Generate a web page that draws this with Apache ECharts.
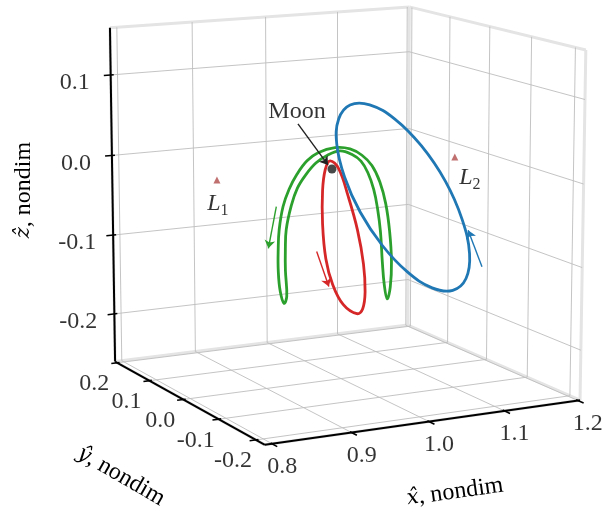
<!DOCTYPE html>
<html>
<head>
<meta charset="utf-8">
<script src="https://cdn.jsdelivr.net/npm/echarts@6.0.0/dist/echarts.min.js"></script>
<style>
html,body{margin:0;padding:0;background:#ffffff;}
#chart{width:605px;height:514px;}
</style>
</head>
<body>
<div id="chart"></div>
<script>
// ---------------- axes / ticks ----------------
const xTicks = [0.8, 0.9, 1.0, 1.1, 1.2];
const yTicks = [-0.2, -0.1, 0.0, 0.1, 0.2];
const zTicks = [-0.2, -0.1, 0.0, 0.1];
const xTickLabels = ['0.8', '0.9', '1.0', '1.1', '1.2'];
const yTickLabels = ['-0.2', '-0.1', '0.0', '0.1', '0.2'];
const zTickLabels = ['-0.2', '-0.1', '0.0', '0.1'];
// drawn box extents
const xLim = [0.791, 1.203];
const yLim = [-0.223, 0.207];
const zLim = [-0.261, 0.158];

// ---------------- orbits (nondim x, y, z) ----------------
const blueX = [1.0385, 1.0418, 1.0512, 1.0653, 1.0818, 1.0984, 1.1125, 1.1219, 1.1252, 1.1219, 1.1125, 1.0984, 1.0818, 1.0653, 1.0512, 1.0418];
const blueY = [0, 0.058, 0.107, 0.140, 0.151, 0.140, 0.107, 0.058, 0, -0.058, -0.107, -0.140, -0.151, -0.140, -0.107, -0.058];
const blueZ = [0.074, 0.0651, 0.0396, 0.0015, -0.0435, -0.0885, -0.1266, -0.152, -0.161, -0.152, -0.1266, -0.0885, -0.0435, 0.0015, 0.0396, 0.0651];

const redX = [0.9852, 0.9879, 0.9938, 1.0028, 1.0117, 1.0180, 1.0222, 1.0231, 1.0212, 1.0166, 1.0097, 1.0016, 0.9942, 0.9875];
const redY = [0, 0.018, 0.037, 0.055, 0.064, 0.058, 0.038, 0.003, -0.016, -0.031, -0.040, -0.040, -0.030, -0.018];
const redZ = [0.0101, -0.0039, -0.0334, -0.0793, -0.1249, -0.1570, -0.1785, -0.1829, -0.1725, -0.1477, -0.1113, -0.0689, -0.0287, 0.0036];

const greenX = [0.9919, 0.9743, 0.9621, 0.9513, 0.9406, 0.9325, 0.9272, 0.9258, 0.9258, 0.9234, 0.9236, 0.9224, 0.9159, 0.9159, 0.9172, 0.9239, 0.932, 0.9453, 0.9614, 0.9787, 0.9987, 1.0174, 1.032, 1.044, 1.0546, 1.0599, 1.064, 1.0667, 1.0642, 1.063, 1.0619, 1.0581, 1.0554, 1.05, 1.042, 1.0338, 1.023, 1.0095];
const greenY = [0, 0.01, 0.015, 0.02, 0.02, 0.02, 0.02, 0.02, 0.02, 0.01, 0, -0.01, -0.02, -0.02, -0.02, -0.02, -0.02, -0.015, -0.01, -0.005, 0, 0.005, 0.01, 0.015, 0.02, 0.02, 0.02, 0.02, 0.01, 0, -0.01, -0.02, -0.02, -0.02, -0.02, -0.015, -0.01, -0.005];
const greenZ = [0.0256, 0.0194, 0.0097, -0.0063, -0.0239, -0.0443, -0.0725, -0.0975, -0.1225, -0.1453, -0.1584, -0.1475, -0.1134, -0.0883, -0.0634, -0.0353, -0.0149, -0.0011, 0.0111, 0.0181, 0.0211, 0.0142, 0.004, -0.0121, -0.0344, -0.0588, -0.0881, -0.1261, -0.1526, -0.1681, -0.1509, -0.1171, -0.0792, -0.0447, -0.0174, 0.0026, 0.0153, 0.0234];

// direction arrows: start and end points (green, red, blue)
const arrowStart = [[0.9284, 0.03, -0.0458], [0.9972, 0.06, -0.1138], [1.1154, -0.14, -0.106]];
const arrowEnd   = [[0.9176, 0.03, -0.096], [1.0138, 0.06, -0.1595], [1.0962, -0.14, -0.06]];

const moonPos = [0.98785, 0, 0];
const L1Pos = [0.83692, 0, 0];
const L2Pos = [1.15568, 0, 0];

// ---------------- view / projection ----------------
const VIEW = {elev: 11.5, azim: 242.5, dist: 8.5, scale: 353, cx: 339.6, cy: 210.5,
              center: [0.994, -0.008, -0.05], span: [0.42, 0.43, 0.424]};
const el = VIEW.elev * Math.PI / 180, az = VIEW.azim * Math.PI / 180;
const eV = [Math.cos(el) * Math.cos(az), Math.cos(el) * Math.sin(az), Math.sin(el)];
const rV = [-Math.sin(az), Math.cos(az), 0];
const uV = [-Math.sin(el) * Math.cos(az), -Math.sin(el) * Math.sin(az), Math.cos(el)];
const dot = (a, b) => a[0] * b[0] + a[1] * b[1] + a[2] * b[2];
function project(x, y, z) {
  const n = [(x - VIEW.center[0]) / VIEW.span[0], (y - VIEW.center[1]) / VIEW.span[1], (z - VIEW.center[2]) / VIEW.span[2]];
  const f = VIEW.dist / (VIEW.dist - dot(n, eV));
  return [VIEW.cx + VIEW.scale * dot(n, rV) * f, VIEW.cy - VIEW.scale * dot(n, uV) * f];
}
const seg = (a, b) => ({coords: [project(a[0], a[1], a[2]), project(b[0], b[1], b[2])]});

const [X0, X1] = xLim, [Y0, Y1] = yLim, [Z0, Z1] = zLim;

// pane edges (floor, back-left wall y=Y1, back-right wall x=X1)
const paneEdges = [
  seg([X0, Y0, Z0], [X1, Y0, Z0]), seg([X1, Y0, Z0], [X1, Y1, Z0]), seg([X1, Y1, Z0], [X0, Y1, Z0]), seg([X0, Y1, Z0], [X0, Y0, Z0]),
  seg([X0, Y1, Z0], [X0, Y1, Z1]), seg([X0, Y1, Z1], [X1, Y1, Z1]), seg([X1, Y1, Z1], [X1, Y1, Z0]),
  seg([X1, Y0, Z0], [X1, Y0, Z1]), seg([X1, Y0, Z1], [X1, Y1, Z1])
];
// grid lines
const gridSegs = [];
xTicks.forEach(t => { gridSegs.push(seg([t, Y0, Z0], [t, Y1, Z0])); gridSegs.push(seg([t, Y1, Z0], [t, Y1, Z1])); });
yTicks.forEach(t => { gridSegs.push(seg([X0, t, Z0], [X1, t, Z0])); gridSegs.push(seg([X1, t, Z0], [X1, t, Z1])); });
zTicks.forEach(t => { gridSegs.push(seg([X0, Y1, t], [X1, Y1, t])); gridSegs.push(seg([X1, Y0, t], [X1, Y1, t])); });
// axis lines
const axisSegs = [seg([X0, Y0, Z0], [X1, Y0, Z0]), seg([X0, Y0, Z0], [X0, Y1, Z0]), seg([X0, Y1, Z0], [X0, Y1, Z1])];
// tick marks
const tickSegs = [];
xTicks.forEach(t => tickSegs.push(seg([t, Y0 - 0.013, Z0], [t, Y0 + 0.004, Z0])));
yTicks.forEach(t => tickSegs.push(seg([X0 - 0.008, t, Z0], [X0 + 0.003, t, Z0])));
zTicks.forEach(t => tickSegs.push(seg([X0 - 0.009, Y1, t], [X0 + 0.004, Y1, t])));

const FONT = 'Liberation Serif, Times New Roman, DejaVu Serif, serif';
const labelSeries = (points, labels, offset) => ({
  type: 'scatter', silent: true, symbolSize: 1, itemStyle: {color: 'rgba(0,0,0,0)'},
  label: {show: true, position: 'inside', color: '#000', fontFamily: FONT, fontSize: 24, offset: offset},
  data: points.map((p, i) => ({value: p, label: {formatter: labels[i]}})),
  z: 10
});

function orbitSeries(name, X, Y, Z, color, zz) {
  const pts = X.map((x, i) => project(x, Y[i], Z[i]));
  return {
    type: 'custom', name: name, coordinateSystem: 'cartesian2d', silent: true, clip: false,
    data: pts, encode: {x: 0, y: 1}, z: zz,
    renderItem: (params, api) => {
      if (params.dataIndex !== 0) return null;
      const pp = pts.map(p => api.coord(p));
      return {type: 'polygon', shape: {points: pp, smooth: 0.4},
              style: {fill: 'none', stroke: color, lineWidth: 2.8, lineJoin: 'round'}};
    }
  };
}

const moonXY = project(moonPos[0], moonPos[1], moonPos[2]);
const arrowColors = ['#2ca02c', '#d62728', '#1f77b4'];

const option = {
  animation: false,
  backgroundColor: '#ffffff',
  grid: {left: 0, right: 0, top: 0, bottom: 0},
  xAxis: {type: 'value', min: 0, max: 605, show: false},
  yAxis: {type: 'value', min: 0, max: 514, inverse: true, show: false},
  series: [
    {type: 'lines', coordinateSystem: 'cartesian2d', silent: true, data: paneEdges,
     lineStyle: {color: '#e4e4e4', width: 3, opacity: 1}, z: 1},
    {type: 'lines', coordinateSystem: 'cartesian2d', silent: true, data: gridSegs,
     lineStyle: {color: '#bdbdbd', width: 0.9, opacity: 1}, z: 2},
    {type: 'lines', coordinateSystem: 'cartesian2d', silent: true, data: axisSegs,
     lineStyle: {color: '#000', width: 2, opacity: 1}, z: 3},
    {type: 'lines', coordinateSystem: 'cartesian2d', silent: true, data: tickSegs,
     lineStyle: {color: '#000', width: 1.6, opacity: 1}, z: 3},
    orbitSeries('green', greenX, greenY, greenZ, '#2ca02c', 4),
    orbitSeries('red', redX, redY, redZ, '#d62728', 5),
    orbitSeries('blue', blueX, blueY, blueZ, '#1f77b4', 6),
    {type: 'lines', coordinateSystem: 'cartesian2d', silent: true, symbol: ['none', 'arrow'], symbolSize: 8,
     data: arrowStart.map((s, i) => Object.assign(seg(s, arrowEnd[i]), {lineStyle: {color: arrowColors[i]}})),
     lineStyle: {width: 1.4, opacity: 1}, z: 7},
    {type: 'scatter', silent: true, symbol: 'triangle', symbolSize: 7, itemStyle: {color: '#b24c4c'},
     label: {show: true, position: 'inside', fontFamily: FONT, color: '#000',
       rich: {a: {fontFamily: FONT, fontStyle: 'italic', fontSize: 24, lineHeight: 24, color: '#000'},
              b: {fontFamily: FONT, fontSize: 16, lineHeight: 16, padding: [14, 0, 0, 0], color: '#000'}}},
     data: [
       {value: project(L1Pos[0], L1Pos[1], L1Pos[2]), label: {formatter: '{a|L}{b|1}', offset: [1, 24]}},
       {value: project(L2Pos[0], L2Pos[1], L2Pos[2]), label: {formatter: '{a|L}{b|2}', offset: [15, 21]}}
     ], z: 8},
    {type: 'lines', coordinateSystem: 'cartesian2d', silent: true, symbol: ['none', 'arrow'], symbolSize: 8,
     data: [{coords: [[moonXY[0] - 34, moonXY[1] - 45], [moonXY[0] - 4, moonXY[1] - 4]]}],
     lineStyle: {color: '#222', width: 1.4, opacity: 1}, z: 8},
    {type: 'scatter', silent: true, symbol: 'circle', symbolSize: 9, itemStyle: {color: '#1a1a1a'},
     label: {show: true, position: 'inside', formatter: 'Moon', fontFamily: FONT, fontSize: 24, color: '#000', offset: [-35, -57]},
     data: [moonXY], z: 9},
    labelSeries(xTicks.map(t => project(t, Y0, Z0)), xTickLabels, [10, 23]),
    labelSeries(yTicks.map(t => project(X0, t, Z0)), yTickLabels, [-23, 21]),
    labelSeries(zTicks.map(t => project(X0, Y1, t)), zTickLabels, [-36, 8])
  ],
  graphic: [
    {type: 'text', x: 455, y: 492, rotation: 8 * Math.PI / 180, silent: true,
     style: {text: '{i|x\u0302}, nondim', fontFamily: FONT, fontSize: 24, fill: '#000', align: 'center', verticalAlign: 'middle',
       rich: {i: {fontFamily: 'DejaVu Serif', fontStyle: 'italic', fontSize: 21, fill: '#000'}}}},
    {type: 'text', x: 121, y: 476, rotation: -30 * Math.PI / 180, silent: true,
     style: {text: '{i|\u0177}, nondim', fontFamily: FONT, fontSize: 24, fill: '#000', align: 'center', verticalAlign: 'middle',
       rich: {i: {fontFamily: 'DejaVu Serif', fontStyle: 'italic', fontSize: 21, fill: '#000'}}}},
    {type: 'text', x: 24, y: 190, rotation: 90 * Math.PI / 180, silent: true,
     style: {text: '{i|\u1E91}, nondim', fontFamily: FONT, fontSize: 24, fill: '#000', align: 'center', verticalAlign: 'middle',
       rich: {i: {fontFamily: 'DejaVu Serif', fontStyle: 'italic', fontSize: 21, fill: '#000'}}}}
  ]
};
const chart = echarts.init(document.getElementById('chart'), null, {renderer: 'canvas'});
chart.setOption(option);
</script>
</body>
</html>
